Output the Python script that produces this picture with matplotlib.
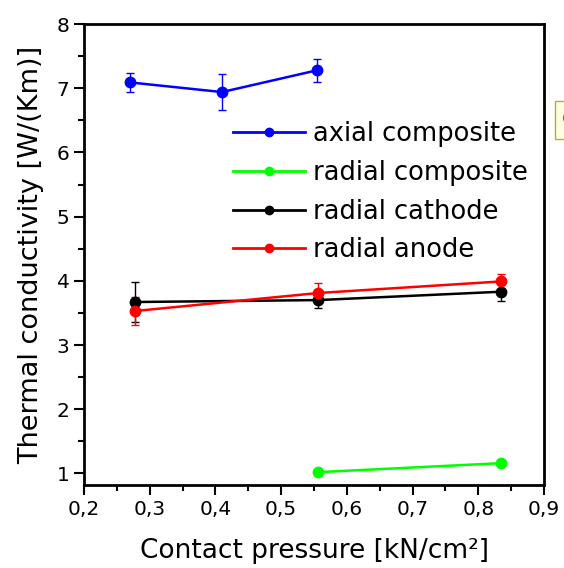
import matplotlib.pyplot as plt
from matplotlib.lines import Line2D
import numpy as np

plt.rcParams['font.family'] = ['DejaVu Sans']

# axial composite
ax_x = [0.27, 0.41, 0.555]
ax_y = [7.09, 6.94, 7.28]
ax_err = [0.15, 0.28, 0.18]

# radial composite
rc_x = [0.556, 0.834]
rc_y = [1.02, 1.16]
rc_err = [0.03, 0.03]

# radial cathode
cat_x = [0.278, 0.556, 0.834]
cat_y = [3.67, 3.70, 3.83]
cat_err = [0.31, 0.12, 0.15]

# radial anode
an_x = [0.278, 0.556, 0.834]
an_y = [3.53, 3.81, 3.99]
an_err = [0.22, 0.15, 0.11]

series = [
    (ax_x, ax_y, ax_err, '#0000ff', 'axial composite'),
    (rc_x, rc_y, rc_err, '#00ff00', 'radial composite'),
    (cat_x, cat_y, cat_err, '#000000', 'radial cathode'),
    (an_x, an_y, an_err, '#ff0000', 'radial anode'),
]

fig = plt.figure(figsize=(5.64, 5.68), dpi=100)
ax = fig.add_axes([84 / 564, 1 - 485 / 568, 460 / 564, 461 / 568])

handles = []
for x, y, e, c, lab in series:
    ax.errorbar(x, y, yerr=e, color=c, marker='o', markersize=7.5, lw=1.8,
                elinewidth=1, capsize=3, capthick=1)
    handles.append(Line2D([], [], color=c, marker='o', markersize=6, lw=2, label=lab))

ax.set_xlim(0.2, 0.9)
ax.set_ylim(0.82, 8)
ax.set_xticks(np.arange(0.2, 0.91, 0.1))
ax.set_xticks(np.arange(0.25, 0.9, 0.1), minor=True)
ax.set_xticklabels(['0,2', '0,3', '0,4', '0,5', '0,6', '0,7', '0,8', '0,9'])
ax.set_yticks(range(1, 9))
ax.set_yticks(np.arange(1.5, 8, 1), minor=True)
ax.tick_params(which='major', direction='out', length=7, width=1.5, labelsize=14.5)
ax.tick_params(which='minor', direction='out', length=4, width=1.5)
for s in ax.spines.values():
    s.set_linewidth(2)

ax.set_xlabel('Contact pressure [kN/cm²]', fontsize=19, labelpad=14)
ax.set_ylabel('Thermal conductivity [W/(Km)]', fontsize=19.5, labelpad=9)

ax.legend(handles=handles, loc='upper left', bbox_to_anchor=(0.324, 0.79),
          frameon=False, fontsize=18.5, handlelength=2.8, handletextpad=0.3,
          labelspacing=0.5, borderaxespad=0, borderpad=0)

fig.text(562 / 564, 1 - 120 / 568, 'C', fontsize=17, va='center', ha='left',
         bbox=dict(boxstyle='square,pad=0.3', fc='#ffffe0', ec='#b0b040', lw=1))

fig.savefig('out.png', dpi=100)
